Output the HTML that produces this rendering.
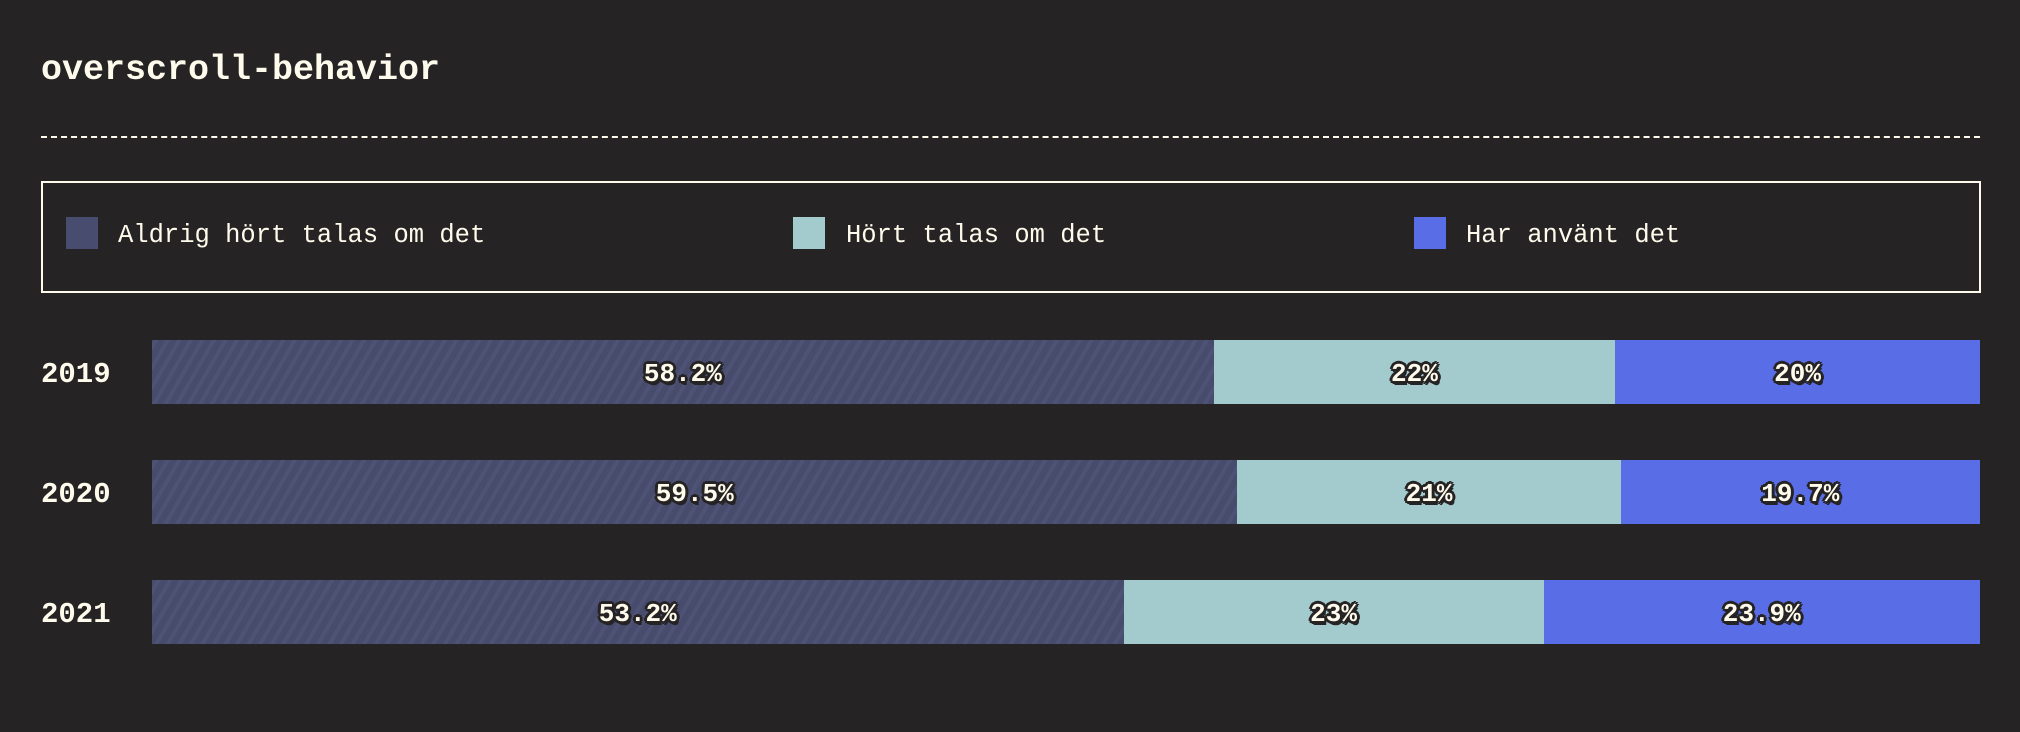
<!DOCTYPE html>
<html><head><meta charset="utf-8">
<style>
html,body{margin:0;padding:0;background:#262324;width:2020px;height:732px;overflow:hidden}
body{position:relative;font-family:"Liberation Mono",monospace;color:#fffbec}
.title{position:absolute;left:41px;top:48px;font-size:35px;font-weight:bold;line-height:44px}
.dash{position:absolute;left:41px;top:136px;width:1939px;border-top:2px dashed #fffbec}
.legend{position:absolute;left:41px;top:181px;width:1936px;height:108px;border:2px solid #fffbec;box-sizing:content-box}
.sw{position:absolute;top:34px;width:32px;height:32px}
.lt{position:absolute;top:33px;font-size:25.5px;line-height:40px}
.year{position:absolute;left:41px;font-size:29px;font-weight:bold;line-height:64px;margin-top:3px}
.seg{position:absolute;height:64px}
.lab{position:absolute;height:64px;line-height:64px;text-align:center;font-size:26px;font-weight:bold;color:#fffbec;margin-top:2px;
text-shadow:-2px -2px 0 #262324,2px -2px 0 #262324,-2px 2px 0 #262324,2px 2px 0 #262324,0 3px 0 #262324,3px 0 0 #262324,-3px 0 0 #262324,0 -3px 0 #262324,2px 4px 0 #262324}
</style></head><body>
<div class="title">overscroll-behavior</div>
<div class="dash"></div>
<div class="legend">
  <div class="sw" style="left:23px;background:#484c6e"></div>
  <div class="lt" style="left:75px">Aldrig hört talas om det</div>
  <div class="sw" style="left:750px;background:#a3cacc"></div>
  <div class="lt" style="left:803px">Hört talas om det</div>
  <div class="sw" style="left:1371px;background:#586de6"></div>
  <div class="lt" style="left:1423px">Har använt det</div>
</div>
<div id="chart"></div>
<script>
const years = ["2019","2020","2021"];
const neverHeard = [58.2, 59.5, 53.2];
const heard = [22, 21, 23];
const used = [20, 19.7, 23.9];
const neverLabels = ["58.2%","59.5%","53.2%"];
const heardLabels = ["22%","21%","23%"];
const usedLabels = ["20%","19.7%","23.9%"];

const X0 = 152, W = 1828, Y0 = 340, ROW = 120;
const chart = document.getElementById('chart');
const fills = [
  "repeating-linear-gradient(-60deg,#474b6c 0px,#474b6c 6px,#4e5275 6px,#4e5275 10px)",
  "#a3cacc","#586de6"];
const names = ["never-heard","heard","used"];
function xScale(v,total){return v/total*W;}
years.forEach((yr,i)=>{
  const y = Y0 + i*ROW;
  const yl = document.createElement('div');
  yl.className='year';
  yl.style.top=y+'px';
  yl.textContent=yr;
  
  
  chart.appendChild(yl);
  const vals=[neverHeard[i],heard[i],used[i]];
  const labs=[neverLabels[i],heardLabels[i],usedLabels[i]];
  const total=vals.reduce((a,b)=>a+b,0);
  let x=X0;
  vals.forEach((v,j)=>{
    const w=xScale(v,total);
    const s=document.createElement('div');
    s.className='seg';
    s.style.left=x+'px';s.style.top=y+'px';s.style.width=w+'px';s.style.background=fills[j];
    
    
    chart.appendChild(s);
    const l=document.createElement('div');
    l.className='lab';
    l.style.left=x+'px';l.style.top=y+'px';l.style.width=w+'px';
    l.textContent=labs[j];
    
    
    chart.appendChild(l);
    x+=w;
  });
});
</script>
</body></html>
